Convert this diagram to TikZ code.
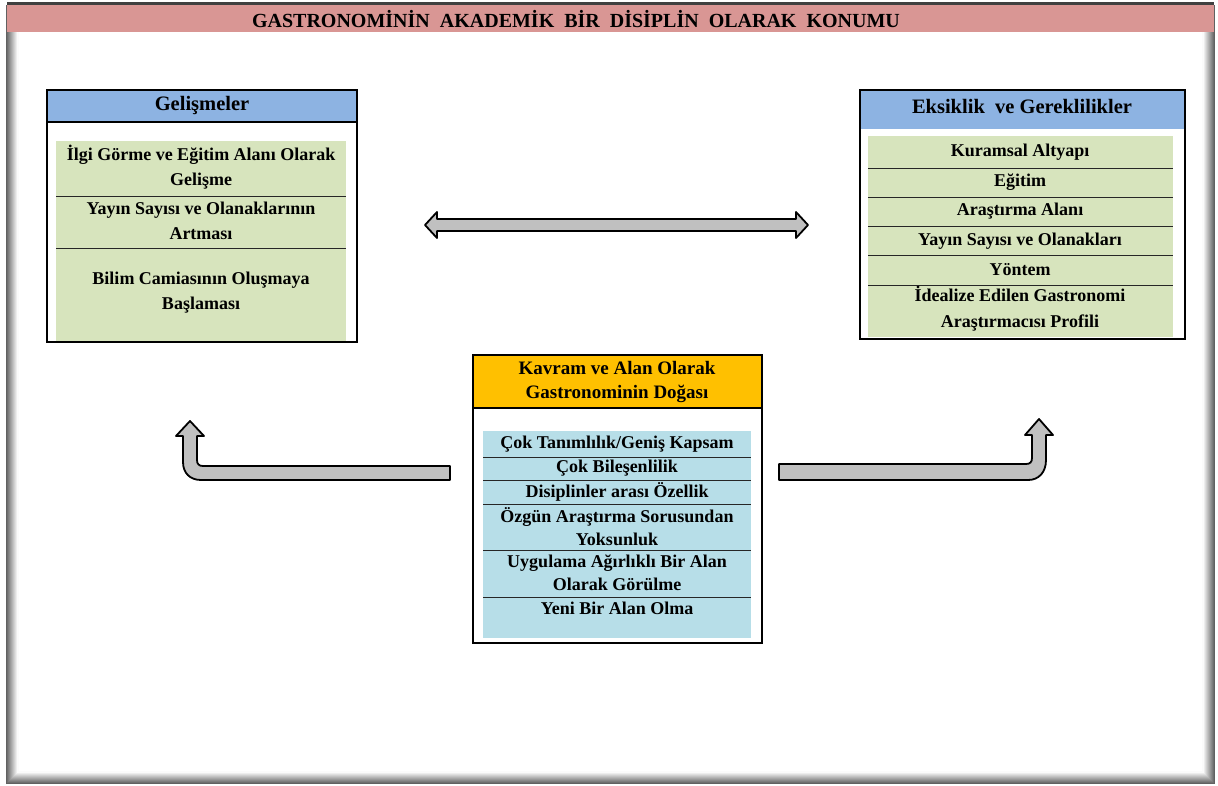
\documentclass[tikz,border=0pt]{standalone}
\usepackage{fontspec}
\setmainfont{Liberation Serif}

\definecolor{titlepink}{RGB}{217,150,148}
\definecolor{headblue}{RGB}{141,179,226}
\definecolor{rowgreen}{RGB}{215,228,189}
\definecolor{headorange}{RGB}{255,192,0}
\definecolor{rowblue}{RGB}{183,222,232}
\definecolor{arrowgray}{RGB}{192,192,192}

\tikzset{
  boxline/.style={draw=black, line width=2pt},
  headtxt/.style={font=\fontsize{20.5}{24}\selectfont\bfseries, align=center, inner sep=0pt},
  rowtxt/.style={font=\fontsize{18}{25}\selectfont\bfseries, align=center, inner sep=0pt},
  sepline/.style={draw=black!85, line width=0.9pt},
  fatarrow/.style={fill=arrowgray, draw=black, line width=1.8pt, line join=round},
}

\begin{document}
\begin{tikzpicture}[x=1pt, y=-1pt]
  \useasboundingbox (0,0) rectangle (1218,785);
  \fill[white] (0,0) rectangle (1218,785);
  % frame with soft shadow
  \foreach \k in {0,...,11}{
    \pgfmathsetmacro{\sh}{max(0,62-5.5*\k)}
    \draw[black!\sh, line width=1.1pt] (7+\k,5) -- (7+\k,783-\k) -- (1214-\k,783-\k) -- (1214-\k,5);
  }
  \fill[black!75] (7,2) rectangle (1214,5);
  \fill[titlepink] (7,5) rectangle (1214,32);
  \node[font=\fontsize{20}{24}\selectfont\bfseries, inner sep=0pt] (title) at (576,19)
    {GASTRONOMİNİN\ \ AKADEMİK\ \ BİR\ \ DİSİPLİN\ \ OLARAK\ \ KONUMU};

  % left box
  \fill[headblue] (47,90) rectangle (357,122);
  \fill[rowgreen] (56,141) rectangle (346,341);
  \draw[boxline] (47,122) -- (357,122);
  \draw[boxline] (47,90) rectangle (357,342);
  \node[headtxt] (gel) at (202,105) {Gelişmeler};
  \foreach \yy/\lab/\nm in {
    167/{İlgi Görme ve Eğitim Alanı Olarak\\Gelişme}/g1,
    221/{Yayın Sayısı ve Olanaklarının\\Artması}/g2,
    293/{Bilim Camiasının Oluşmaya\\Başlaması}/g3}{
    \node[rowtxt] (\nm) at (201,\yy) {\lab};
  }
  \foreach \yy in {196,248}{ \draw[sepline] (56,\yy) -- (346,\yy); }

  % right box
  \fill[headblue] (860,90) rectangle (1185,129);
  \fill[rowgreen] (868,136) rectangle (1173,337);
  \draw[boxline] (860,90) rectangle (1185,339);
  \node[headtxt] (eks) at (1022,106) {Eksiklik\ \ ve\ Gereklilikler};
  \foreach \yy/\lab/\nm in {
    152/{Kuramsal Altyapı}/e1,
    182/{Eğitim}/e2,
    211/{Araştırma Alanı}/e3,
    241/{Yayın Sayısı ve Olanakları}/e4,
    270/{Yöntem}/e5,
    309/{İdealize Edilen Gastronomi\\[1pt]Araştırmacısı Profili}/e6}{
    \node[rowtxt] (\nm) at (1020,\yy) {\lab};
  }
  \foreach \yy in {168,197,226,255,285}{ \draw[sepline] (868,\yy) -- (1173,\yy); }

  % center box
  \fill[headorange] (473,355) rectangle (762,408);
  \fill[rowblue] (483,431) rectangle (751,638);
  \draw[boxline] (473,408) -- (762,408);
  \draw[boxline] (473,355) rectangle (762,643);
  \node[headtxt, font=\fontsize{19}{24}\selectfont\bfseries] (kav) at (617,382)
    {Kavram ve Alan Olarak\\Gastronominin\ Doğası};
  \foreach \yy/\lab/\nm in {
    444/{Çok Tanımlılık/Geniş Kapsam}/k1,
    468/{Çok Bileşenlilik}/k2,
    492/{Disiplinler arası Özellik}/k3,
    527/{Özgün Araştırma Sorusundan\\[-2pt]Yoksunluk}/k4,
    573/{Uygulama Ağırlıklı Bir Alan\\[-2pt]Olarak Görülme}/k5,
    608/{Yeni Bir Alan Olma}/k6}{
    \node[rowtxt] (\nm) at (617,\yy) {\lab};
  }
  \foreach \yy in {457,480,504,550,597}{ \draw[sepline] (483,\yy) -- (751,\yy); }

  % block arrows
  \draw[fatarrow] (425,225) -- (437,212) -- (437,219) -- (796,219) -- (796,212) -- (808,225)
    -- (796,238) -- (796,231) -- (437,231) -- (437,238) -- cycle;
  \draw[fatarrow] (450,466) -- (203,466) .. controls (199,466) and (197,464) .. (197,460)
    -- (197,436) -- (204,436) -- (190,421) -- (176,436) -- (183,436) -- (183,462)
    .. controls (183,473) and (190,480) .. (201,480) -- (450,480) -- cycle;
  \draw[fatarrow] (779,464) -- (1026,464) .. controls (1030,464) and (1032,462) .. (1032,458)
    -- (1032,435) -- (1025,435) -- (1039,419) -- (1053,435) -- (1046,435) -- (1046,460)
    .. controls (1046,472) and (1039,480) .. (1028,480) -- (779,480) -- cycle;
\end{tikzpicture}
\end{document}
